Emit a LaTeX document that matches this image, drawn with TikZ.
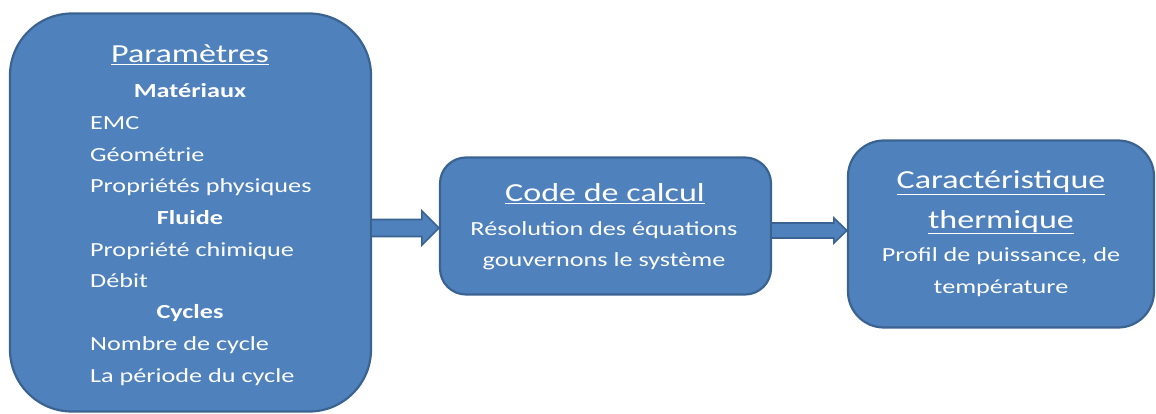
\documentclass[tikz,border=0pt]{standalone}
\usepackage{fontspec}
\setmainfont{Carlito}[FakeStretch=1.31]
\usetikzlibrary{calc}
\definecolor{boxfill}{HTML}{4F81BD}
\definecolor{boxline}{HTML}{3A6391}
\tikzset{
  box/.style={draw=boxline, line width=2.2pt, fill=boxfill, inner sep=0pt},
  ttl/.style={text=white, anchor=base, inner sep=0pt, font=\fontsize{26}{30}\selectfont},
  sub/.style={text=white, anchor=base, inner sep=0pt, font=\fontsize{20}{24}\selectfont\bfseries},
  itm/.style={text=white, anchor=base west, inner sep=0pt, font=\fontsize{20}{24}\selectfont},
  ctr/.style={text=white, anchor=base, inner sep=0pt, font=\fontsize{20}{24}\selectfont},
  fatarrow/.style={draw=boxline, line width=1.6pt, fill=boxfill, line join=miter}
}
\begin{document}
\begin{tikzpicture}[x=1pt,y=-1pt]
\useasboundingbox (0,0) rectangle (1156,414);
\node[box, minimum width=361, minimum height=398, rounded corners=62] (par) at (190.5,212.5) {};
\node[box, minimum width=331, minimum height=137, rounded corners=26] (code) at (605.5,226) {};
\node[box, minimum width=306, minimum height=187, rounded corners=36] (car) at (1001,234) {};
% left texts
\node[ttl] (t1) at (190,63) {\underline{Paramètres}};
\node[sub] (s1) at (190,98) {Matériaux};
\node[itm] (i1) at (90,130) {EMC};
\node[itm] (i2) at (90,161.5) {Géométrie};
\node[itm] (i3) at (90,193) {Propriétés physiques};
\node[sub] (s2) at (190,224.5) {Fluide};
\node[itm] (i4) at (90,256) {Propriété chimique};
\node[itm] (i5) at (90,287.5) {Débit};
\node[sub] (s3) at (190,318.5) {Cycles};
\node[itm] (i6) at (90,350.5) {Nombre de cycle};
\node[itm] (i7) at (90,382) {La période du cycle};
% middle texts
\node[ttl] (t2) at (605,202) {\underline{Code de calcul}};
\node[ctr] (m1) at (604,235) {Résolution des équations};
\node[ctr] (m2) at (604,266) {gouvernons le système};
% right texts
\node[ttl] (t3) at (1001,189) {\underline{Caractéristique}};
\node[ttl] (t4) at (1001,228) {\underline{thermique}};
\node[ctr] (r1) at (1001,261) {Profil de puissance, de};
\node[ctr] (r2) at (1001,293) {température};
% arrows
\coordinate (a1) at ($(code.west)+(0,2)$);
\coordinate (a2) at ($(car.west)+(0,-3.5)$);
\draw[fatarrow] ($(par.east |- a1)+(0,-8.5)$) -- ($(a1)+(-17,-8.5)$) -- ($(a1)+(-17,-17)$)
  -- (a1) -- ($(a1)+(-17,17)$) -- ($(a1)+(-17,8.5)$) -- ($(par.east |- a1)+(0,8.5)$);
\draw[fatarrow] ($(code.east |- a2)+(0,-7.5)$) -- ($(a2)+(-13,-7.5)$) -- ($(a2)+(-13,-12.5)$)
  -- (a2) -- ($(a2)+(-13,12.5)$) -- ($(a2)+(-13,7.5)$) -- ($(code.east |- a2)+(0,7.5)$);
\end{tikzpicture}
\end{document}
